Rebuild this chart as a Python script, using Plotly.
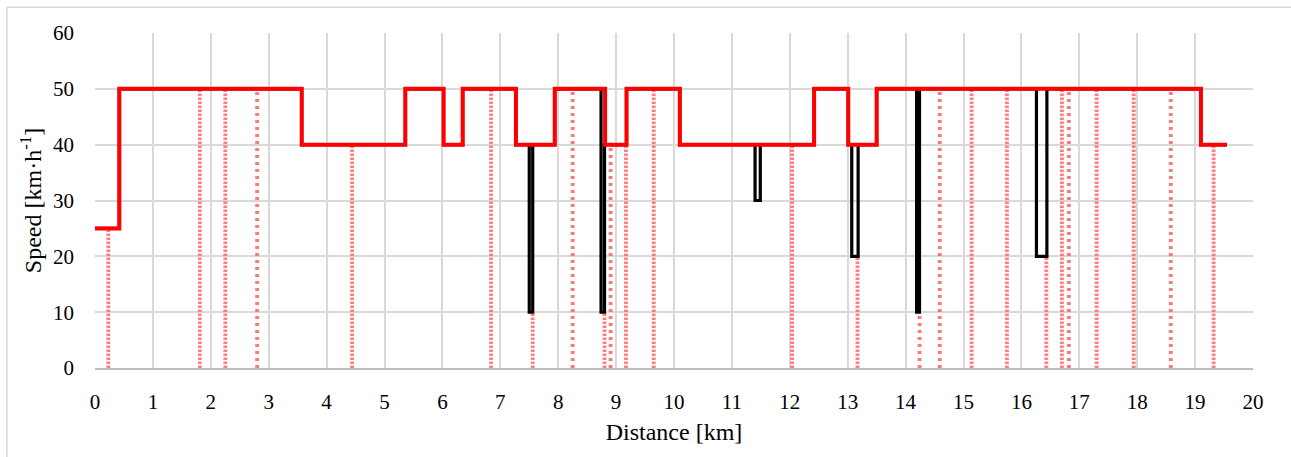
import plotly.graph_objects as go

# Speed limit (red step line): change points [km] and limit [km/h]
limit_x = [0, 0.42, 3.57, 5.36, 6.02, 6.35, 7.27, 7.94, 8.81, 9.18, 10.10, 12.42, 13.01, 13.50, 19.10, 19.55]
limit_v = [25, 50, 40, 50, 40, 50, 40, 50, 40, 50, 40, 50, 40, 50, 40, 40]

# Reduced-speed profile (black step line)
profile_x = [0, 0.42, 3.57, 5.36, 6.02, 6.35, 7.27, 7.50, 7.56, 7.94, 8.74, 8.80, 9.18, 10.10,
             11.40, 11.49, 12.42, 13.01, 13.07, 13.18, 13.50, 14.19, 14.24, 16.26, 16.44, 19.10, 19.55]
profile_v = [25, 50, 40, 50, 40, 50, 40, 10, 40, 50, 10, 40, 50, 40,
             30, 40, 50, 40, 20, 40, 50, 10, 50, 20, 50, 40, 40]

# Signal / event positions (dotted vertical markers) and their top speed
dense_x = [0.23, 1.81, 2.25, 4.44, 6.84, 7.56, 8.80, 9.17, 9.65, 12.04, 13.17, 15.14, 15.75, 16.43, 16.70, 17.30, 17.94, 19.32]
dense_top = [25, 50, 50, 40, 50, 10, 10, 40, 50, 40, 20, 50, 50, 20, 50, 50, 50, 40]
sparse_x = [2.80, 8.25, 8.905, 14.24, 14.59, 16.82, 18.58]
sparse_top = [50, 50, 40, 10, 50, 50, 50]

x_ticks = list(range(0, 21))
y_ticks = [0, 10, 20, 30, 40, 50, 60]


def vlines(xs, tops):
    X, Y = [], []
    for x, t in zip(xs, tops):
        X += [x, x, None]
        Y += [0, t, None]
    return X, Y


fig = go.Figure()
dx, dy = vlines(dense_x, dense_top)
fig.add_trace(go.Scatter(x=dx, y=dy, mode="lines", showlegend=False, hoverinfo="skip",
                         line=dict(color="rgba(255,105,105,0.85)", width=3.8, dash="2.5px,1.5px")))
sx, sy = vlines(sparse_x, sparse_top)
fig.add_trace(go.Scatter(x=sx, y=sy, mode="lines", showlegend=False, hoverinfo="skip",
                         line=dict(color="rgba(255,105,105,0.9)", width=3.8, dash="3px,4px")))
fig.add_trace(go.Scatter(x=profile_x, y=profile_v, mode="lines", line_shape="hv", showlegend=False,
                         line=dict(color="black", width=3.2)))
fig.add_trace(go.Scatter(x=limit_x, y=limit_v, mode="lines", line_shape="hv", showlegend=False,
                         line=dict(color="#FF0000", width=4)))

font_family = "Liberation Serif"
fig.update_layout(
    width=1291, height=457,
    margin=dict(l=95, r=38, t=33, b=89),
    paper_bgcolor="white", plot_bgcolor="white",
    font=dict(family=font_family, size=21, color="black"),
    xaxis=dict(range=[0, 20], tickvals=x_ticks, showgrid=True, gridcolor="#d9d9d9", gridwidth=1.5,
               zeroline=False, showline=True, linecolor="#bfbfbf", linewidth=1.5,
               ticks="", ticklabelstandoff=14,
               tickfont=dict(family=font_family, size=21),
               title=dict(text="Distance [km]", font=dict(family=font_family, size=24), standoff=10)),
    yaxis=dict(range=[0, 60], tickvals=y_ticks, showgrid=True, gridcolor="#d9d9d9", gridwidth=1.5,
               zeroline=False, showline=False, ticks="", ticklabelstandoff=20,
               tickfont=dict(family=font_family, size=21),
               title=dict(text="Speed [km·h<sup>-1</sup>]", font=dict(family=font_family, size=24), standoff=4)),
    shapes=[dict(type="rect", xref="paper", yref="paper", x0=-0.076, x1=1.2, y0=-0.5, y1=1.077,
                 line=dict(color="#d9d9d9", width=1.5), fillcolor="rgba(0,0,0,0)", layer="below")],
)

fig.write_html("out.html", config={"displayModeBar": False},
               post_script="document.body.style.margin='0';document.body.style.padding='0';")
